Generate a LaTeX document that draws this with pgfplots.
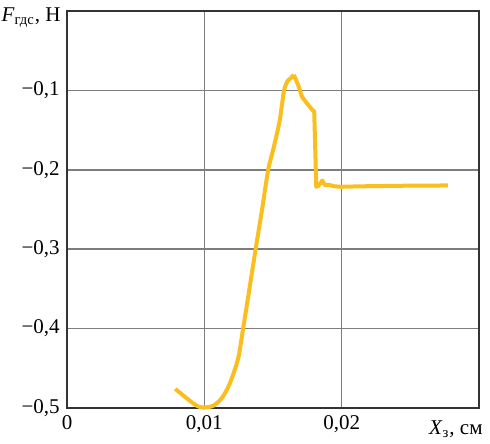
\documentclass[border=0pt]{standalone}
\usepackage{fontspec}
\setmainfont{Liberation Serif}
\usepackage{pgfplots}
\pgfplotsset{compat=1.18}
\definecolor{curve}{RGB}{250,190,30}
\definecolor{gridc}{RGB}{125,125,125}

\begin{document}
\fontsize{10.5}{12}\selectfont
\begin{tikzpicture}
\useasboundingbox (-33.5pt,-17.5pt) rectangle (211.5pt,204pt);
\begin{axis}[
  scale only axis,
  width=206pt,height=198.5pt,
  xmin=0,xmax=0.03,
  ymin=-0.5,ymax=0,
  xtick={0,0.01,0.02},
  xticklabels={0,{0,01},{0,02}},
  ytick={-0.5,-0.4,-0.3,-0.2,-0.1},
  yticklabels={{−0,5},{−0,4},{−0,3},{−0,2},{−0,1}},
  major tick length=0pt,
  ticklabel style={font=\fontsize{10.5}{12}\selectfont},
  grid=major,
  grid style={gridc,line width=0.75pt},
  axis line style={black!80,line width=0.75pt},
  xlabel={\textit{X}\textsubscript{з}, см},
  xlabel style={at={(rel axis cs:1,0)},anchor=base east,inner sep=0pt,
    xshift=2pt,yshift=-13pt},
  ylabel={\textit{F}\textsubscript{гдс}, Н},
  ylabel style={at={(rel axis cs:0,1)},anchor=base east,inner sep=0pt,
    rotate=-90,xshift=-3pt,yshift=-5pt},
  clip=false]
% rise, smooth
\addplot[curve,line width=2pt,line join=round,smooth,tension=0.5] coordinates {
  (0.00788,-0.4759)(0.00898,-0.4914)(0.00950,-0.4975)(0.00995,-0.4995)
  (0.01068,-0.4969)(0.01129,-0.4870)(0.01177,-0.4725)(0.01214,-0.4557)
  (0.01250,-0.4348)(0.01281,-0.4013)(0.01316,-0.3635)(0.01374,-0.2994)
  (0.01420,-0.2503)(0.01465,-0.2000)(0.01501,-0.1748)(0.01547,-0.1396)
  (0.01579,-0.1015)(0.01604,-0.0889)(0.01628,-0.0847)(0.01652,-0.0805)};
% fall and plateau
\addplot[curve,line width=2pt,line join=round] coordinates {
  (0.01652,-0.0805)(0.01686,-0.0945)(0.01711,-0.1080)(0.01747,-0.1163)
  (0.01786,-0.1245)(0.01800,-0.1265)(0.01815,-0.2214)(0.01832,-0.2201)
  (0.01859,-0.2135)(0.01876,-0.2189)(0.01905,-0.2189)(0.01949,-0.2208)
  (0.01993,-0.2214)(0.02139,-0.2208)(0.02431,-0.2201)(0.02774,-0.2197)};
\end{axis}
\end{tikzpicture}
\end{document}
